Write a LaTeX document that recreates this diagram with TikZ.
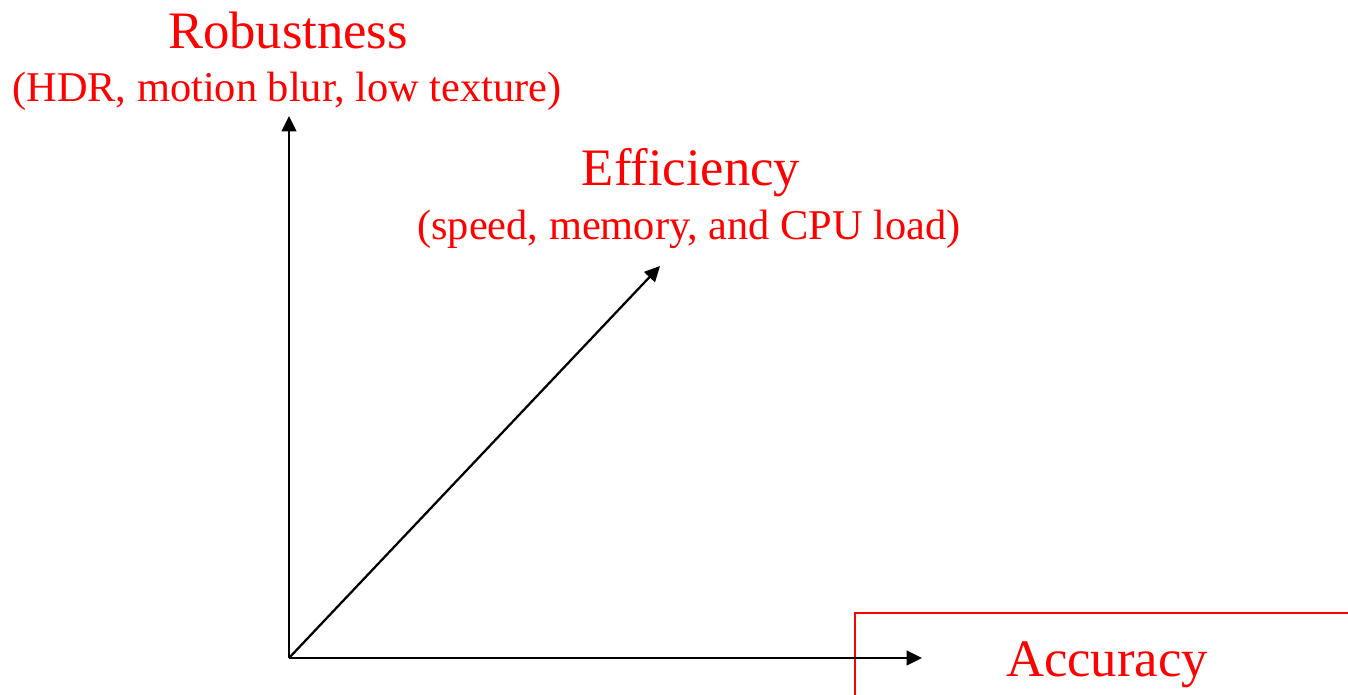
\documentclass[tikz,border=0pt]{standalone}
\usepackage{fontspec}
\setmainfont{Liberation Serif}
\usetikzlibrary{arrows.meta}
\begin{document}
\begin{tikzpicture}[x=0.75pt,y=-0.75pt,
  axis/.style={line width=1.7pt,-{Triangle[length=11.5pt,width=11pt]}},
  title/.style={text=red,font=\fontsize{39.5pt}{44pt}\selectfont,anchor=base,inner sep=0pt},
  subtitle/.style={text=red,font=\fontsize{31.8pt}{36pt}\selectfont,anchor=base,inner sep=0pt},
  frame/.style={draw=red,line width=1pt}]
\useasboundingbox (0,0) rectangle (1348,695);
% highlighted region around the accuracy label
\draw[frame] (855,700) -- (855,613) -- (1352,613);
% axes
\coordinate (O) at (289,658);
\coordinate (Rtip) at (289,116);
\coordinate (Atip) at (922,658);
\coordinate (Etip) at (660,266);
\draw[axis] (O) -- (Rtip);
\draw[axis] (O) -- (Atip);
\draw[axis] (O) -- (Etip);
% labels
\node[title] (rob) at (288,49) {Robustness};
\node[subtitle] (robsub) at (287,102) {(HDR, motion blur, low texture)};
\node[title] (eff) at (691,186) {Efficiency};
\node[subtitle] (effsub) at (689,239) {(speed, memory, and CPU load)};
\node[title] (acc) at (1107,676) {Accuracy};
\end{tikzpicture}
\end{document}
